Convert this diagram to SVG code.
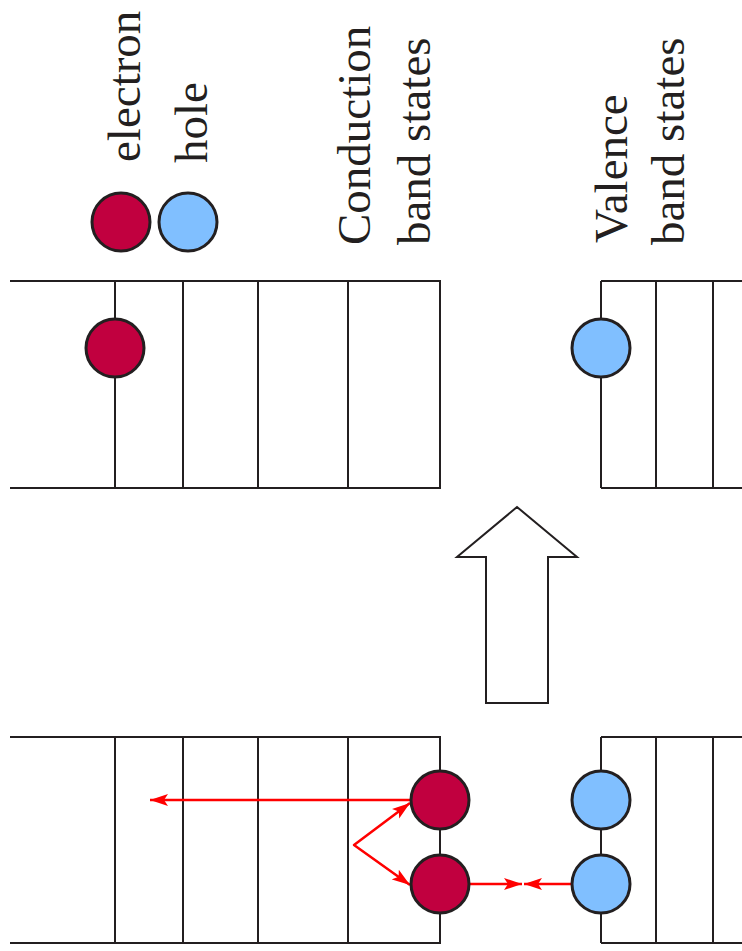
<svg xmlns="http://www.w3.org/2000/svg" width="742" height="951" viewBox="0 0 742 951">
<defs>
<style>
.ln{stroke:#231f20;stroke-width:2;fill:none}
.el{fill:#c1003f;stroke:#231f20;stroke-width:3}
.ho{fill:#80bfff;stroke:#231f20;stroke-width:3}
.lbl{font-family:"Liberation Serif","DejaVu Serif",serif;font-size:47px;fill:#231f20}
.ra{stroke:#ff0000;stroke-width:2.5;fill:none;stroke-linejoin:round}
</style>
<marker id="ah" markerUnits="userSpaceOnUse" markerWidth="20" markerHeight="14" refX="18" refY="6" orient="auto-start-reverse" viewBox="0 0 20 12">
<path d="M0,0 L18,6 L0,12 L4,6 z" fill="#ff0000"/>
</marker>
</defs>
<rect width="742" height="951" fill="#ffffff"/>
<g id="legend">
<text class="lbl" transform="translate(140,162) rotate(-90)">electron</text>
<text class="lbl" transform="translate(207,163) rotate(-90)">hole</text>
<circle class="el" cx="121" cy="222" r="29"/>
<circle class="ho" cx="188" cy="222" r="29"/>
</g>
<g id="labels">
<text class="lbl" transform="translate(370,245) rotate(-90)">Conduction</text>
<text class="lbl" transform="translate(430,245) rotate(-90)">band states</text>
<text class="lbl" transform="translate(627,243) rotate(-90)">Valence</text>
<text class="lbl" transform="translate(684,245) rotate(-90)">band states</text>
</g>
<g id="top-conduction">
<path class="ln" d="M10,281 H441 M10,488 H441 M115,281 V488 M183,281 V488 M258,281 V488 M348,281 V488 M440,281 V488"/>
<circle class="el" cx="115" cy="348" r="29"/>
</g>
<g id="top-valence">
<path class="ln" d="M601,281 H742 M601,488 H742 M601,281 V488 M656,281 V488 M713,281 V488"/>
<circle class="ho" cx="601" cy="348" r="29"/>
</g>
<g id="big-arrow">
<polygon class="ln" points="517,507 577,557 548,557 548,703 486,703 486,557 457,557"/>
</g>
<g id="bottom-conduction">
<path class="ln" d="M10,737 H441 M10,943 H441 M115,737 V943 M183,737 V943 M258,737 V943 M348,737 V943 M440,737 V943"/>
</g>
<g id="bottom-valence">
<path class="ln" d="M601,737 H742 M601,943 H742 M601,737 V943 M656,737 V943 M713,737 V943"/>
</g>
<g id="connectors">
<path class="ra" d="M411,800 H150" marker-end="url(#ah)"/>
<path class="ra" d="M410,803 L354,845 L410,885" marker-start="url(#ah)" marker-end="url(#ah)"/>
<path class="ra" d="M469,884 H522" marker-end="url(#ah)"/>
<path class="ra" d="M572,884 H524" marker-end="url(#ah)"/>
</g>
<g id="particles">
<circle class="el" cx="440" cy="800" r="29"/>
<circle class="el" cx="440" cy="884" r="29"/>
<circle class="ho" cx="601" cy="800" r="29"/>
<circle class="ho" cx="601" cy="884" r="29"/>
</g>
</svg>
